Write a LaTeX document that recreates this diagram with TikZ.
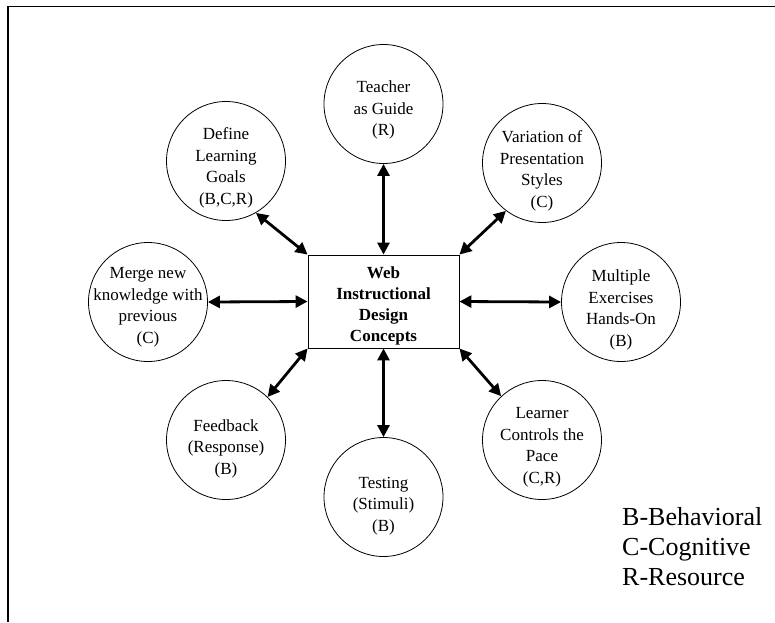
\documentclass[tikz,border=0pt]{standalone}
\usepackage{fontspec}
\setmainfont{Liberation Serif}
\usetikzlibrary{arrows.meta}
\begin{document}
\begin{tikzpicture}[x=1pt,y=-1pt,
  concept/.style={draw,circle,line width=0.8pt,minimum size=119pt,inner sep=0pt},
  ctext/.style={align=center,inner sep=0pt,font=\fontsize{17}{21.5}\selectfont},
  hub/.style={draw,line width=0.9pt,minimum width=151pt,minimum height=93pt,inner sep=0pt},
  hubtext/.style={align=center,inner sep=0pt,font=\fontsize{17}{21}\selectfont\bfseries},
  link/.style={line width=2.8pt,{Triangle[length=12pt,width=12pt]}-{Triangle[length=12pt,width=12pt]}},
  legendtext/.style={align=left,inner sep=0pt,anchor=base west,font=\fontsize{26}{30}\selectfont}]
\useasboundingbox (0,0) rectangle (775,622);
% frame
\draw[line width=1.8pt] (8,622) -- (8,6.5) -- (775,6.5);
% central concept
\node[hub] (hub) at (383.5,301.5) {};
\node[hubtext] at ([yshift=-4pt]hub.center) {Web\\Instructional\\Design\\Concepts};
% surrounding circles
\node[concept] (teach) at (383.5,104) {};
\node[ctext] at ([yshift=-6pt]teach.center) {Teacher\\as Guide\\(R)};
\node[concept] (goals) at (226,161) {};
\node[ctext] at ([yshift=-7pt]goals.center) {Define\\Learning\\Goals\\(B,C,R)};
\node[concept] (vary) at (542,163) {};
\node[ctext] at ([yshift=-8pt]vary.center) {Variation of\\Presentation\\Styles\\(C)};
\node[concept] (merge) at (148,302) {};
\node[ctext] at ([yshift=-5pt]merge.center) {Merge new\\knowledge with\\previous\\(C)};
\node[concept] (hands) at (621,302) {};
\node[ctext] at ([yshift=-8pt]hands.center) {Multiple\\Exercises\\Hands-On\\(B)};
\node[concept] (feed) at (226,440) {};
\node[ctext] at ([yshift=-8.5pt]feed.center) {Feedback\\(Response)\\(B)};
\node[concept] (test) at (383.5,497) {};
\node[ctext] at ([yshift=-9pt]test.center) {Testing\\(Stimuli)\\(B)};
\node[concept] (pace) at (542,440) {};
\node[ctext] at ([yshift=-7pt]pace.center) {Learner\\Controls the\\Pace\\(C,R)};
% connectors
\draw[link] (teach.south) -- (hub.north);
\draw[link] (test.north) -- (hub.south);
\draw[link] (merge.east) -- (hub.west);
\draw[link] (hands.west) -- (hub.east);
\draw[link] (goals.-60) -- (hub.north west);
\draw[link] (vary.-127) -- (hub.north east);
\draw[link] (feed.46) -- (hub.south west);
\draw[link] (pace.133) -- (hub.south east);
% key
\node[legendtext] (key) at (622,585) {B-Behavioral\\C-Cognitive\\R-Resource};
\end{tikzpicture}
\end{document}
